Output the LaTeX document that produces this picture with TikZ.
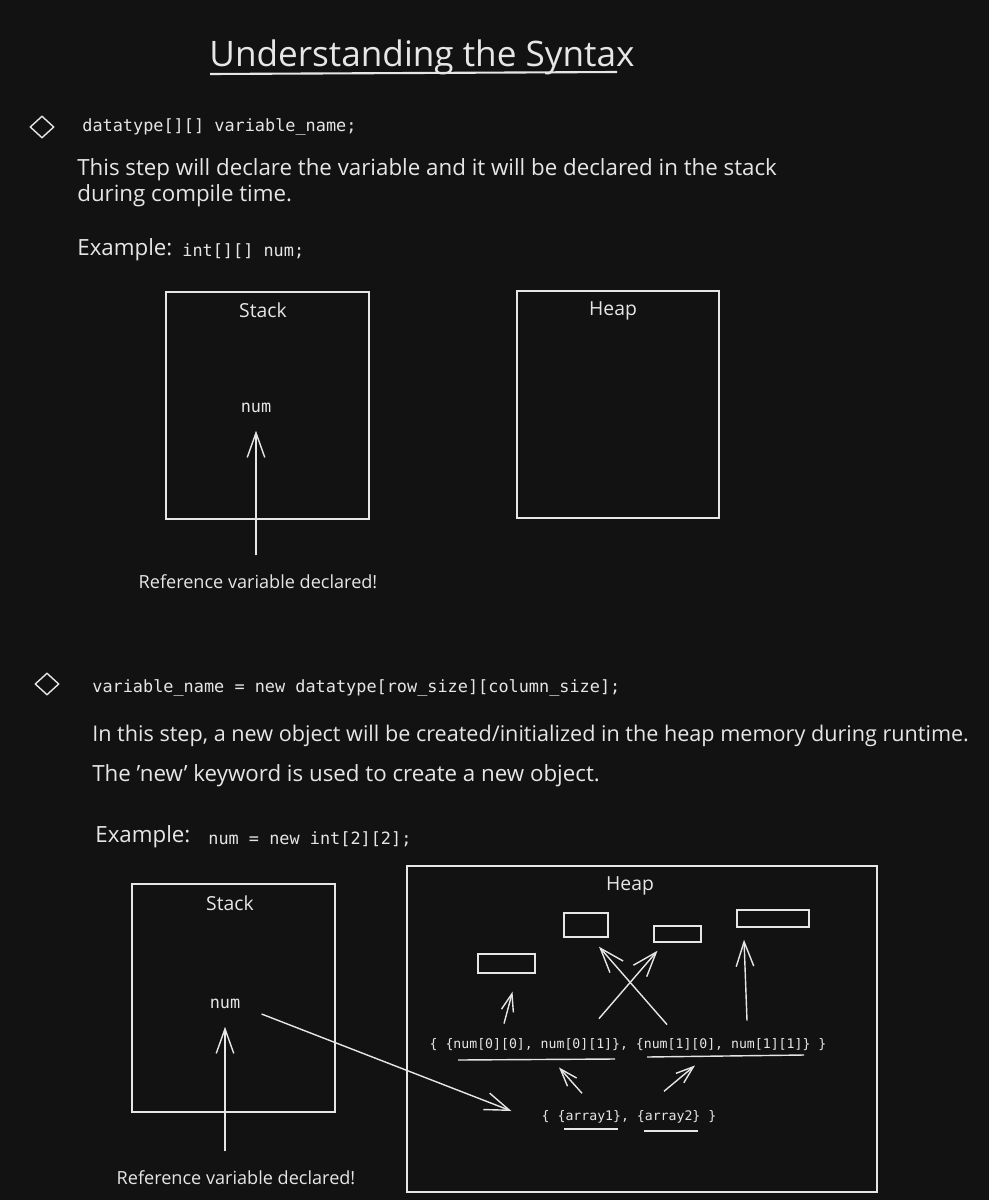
\documentclass[tikz,border=0pt]{standalone}
\usepackage{fontspec}
\setmainfont{Open Sans}
\setmonofont{DejaVu Sans Mono}
\usepackage{tikz}
\usetikzlibrary{arrows.meta, positioning, calc, shapes.geometric}
\usepackage{xcolor}
\definecolor{boardbg}{HTML}{121212}
\definecolor{chalkwhite}{HTML}{E6E6E6}

\begin{document}
\begin{tikzpicture}[
    x=0.02cm, y=-0.02cm,
    >={Straight Barb[length=14pt, width=10pt]},
    hand/.style={text=chalkwhite, inner sep=0, font=\fontsize{11}{13}\selectfont},
    body hand/.style={hand, font=\fontsize{12.7}{15}\selectfont},
    small hand/.style={hand, font=\fontsize{10.3}{12}\selectfont},
    code/.style={text=chalkwhite, inner sep=0, font=\ttfamily\fontsize{9.6}{11}\selectfont},
    heapcode/.style={code, font=\ttfamily\fontsize{7.5}{9}\selectfont},
    membox/.style={draw=chalkwhite, line width=0.8pt, inner sep=0},
    cell/.style={draw=chalkwhite, line width=0.8pt, inner sep=0},
    bullet/.style={diamond, draw=chalkwhite, line width=0.8pt, inner sep=0, minimum width=0.48cm, minimum height=0.44cm},
    arr/.style={->, draw=chalkwhite, line width=0.8pt},
    sarr/.style={arr, >={Straight Barb[length=10pt, width=7pt]}},
    uline/.style={draw=chalkwhite, line width=0.8pt},
]
    % Board
    \useasboundingbox (0,0) rectangle (989,1200);
    \fill[boardbg] (0,0) rectangle (989,1200);

    % Title
    \node[hand, font=\fontsize{20}{24}\selectfont] (title) at (422,57) {Understanding the Syntax};
    \draw[uline, line width=1.2pt] (210,74) -- (617,72);

    % Step 1: declaration
    \node[bullet] (bul1) at (42,127) {};
    \node[code, anchor=west] (decl) at (82,127) {datatype[][] variable\_name;};
    \node[body hand, anchor=west] (descA) at (77,170) {This step will declare the variable and it will be declared in the stack};
    \node[body hand, anchor=west] (descB) at (77,196) {during compile time.};
    \node[body hand, anchor=west] (exA) at (77,250) {Example:};
    \node[code, anchor=west] (exAcode) at (182,251) {int[][] num;};

    % Memory before new
    \node[membox, minimum width=4.06cm, minimum height=4.54cm] (stackA) at (267.5,405.5) {};
    \node[hand] (stackAlbl) at (263,310) {Stack};
    \node[membox, minimum width=4.04cm, minimum height=4.54cm] (heapA) at (618,404.5) {};
    \node[hand] (heapAlbl) at (613,311) {Heap};
    \node[code] (numA) at (256,408) {num};
    \node[small hand] (refA) at (258,582) {Reference variable declared!};
    \draw[arr, shorten <=11pt, shorten >=10pt] (refA.north -| numA) -- (numA.south);

    % Step 2: initialisation
    \node[bullet] (bul2) at (47,684) {};
    \node[code, anchor=west] (init) at (92,688) {variable\_name = new datatype[row\_size][column\_size];};
    \node[body hand, anchor=west, font=\fontsize{12.3}{15}\selectfont] (descC) at (92,736) {In this step, a new object will be created/initialized in the heap memory during runtime.};
    \node[body hand, anchor=west] (descD) at (92,776) {The 'new' keyword is used to create a new object.};
    \node[body hand, anchor=west] (exB) at (95,837) {Example:};
    \node[code, anchor=west] (exBcode) at (208,839) {num = new int[2][2];};

    % Memory after new
    \node[membox, minimum width=4.06cm, minimum height=4.56cm] (stackB) at (233.5,998) {};
    \node[hand] (stackBlbl) at (230,903) {Stack};
    \node[code] (numB) at (225,1004) {num};
    \node[small hand] (refB) at (236,1178) {Reference variable declared!};
    \draw[arr, shorten <=11pt, shorten >=10pt] (refB.north -| numB) -- (numB.south);

    \node[membox, minimum width=9.4cm, minimum height=6.52cm] (heapB) at (642,1029) {};
    \node[hand] (heapBlbl) at (630,886) {Heap};

    % Inner arrays
    \node[cell, minimum width=1.14cm, minimum height=0.38cm] (cellA) at (506.5,963.5) {};
    \node[cell, minimum width=0.88cm, minimum height=0.48cm] (cellB) at (586,925) {};
    \node[cell, minimum width=0.94cm, minimum height=0.32cm] (cellC) at (677.5,934) {};
    \node[cell, minimum width=1.44cm, minimum height=0.34cm] (cellD) at (773,918.5) {};

    \node[heapcode] (rows) at (628,1045) {\{ \{num[0][0], num[0][1]\}, \{num[1][0], num[1][1]\} \}};
    \node[heapcode] (arrays) at (629,1117) {\{ \{array1\}, \{array2\} \}};
    \draw[uline] (458,1060) -- (615,1059);
    \draw[uline] (647,1057) -- (804,1055);
    \draw[uline] (564,1129) -- (618,1129);
    \draw[uline] (644,1131) -- (698,1131);

    % Element arrows
    \coordinate (tA) at ($(rows.north)+(-124,-15)$);
    \coordinate (tX1) at ($(rows.north)+(39,-14)$);
    \coordinate (tX2) at ($(rows.north)+(-29,-20)$);
    \coordinate (tD) at ($(rows.north)+(119,-18)$);
    \draw[sarr] (tA) -- ($(cellA.south)+(6,18)$);
    \draw[arr] (tX1) -- ($(cellB.south)+(13,9)$);
    \draw[arr] (tX2) -- ($(cellC.south)+(-20,8)$);
    \draw[arr] (tD) -- ($(cellD.south)+(-29,12)$);

    % Row arrows
    \coordinate (tR1) at ($(arrays.north)+(-47,-17)$);
    \coordinate (tR2) at ($(arrays.north)+(35,-19)$);
    \draw[sarr] (tR1) -- ($(rows.south)+(-69,16)$);
    \draw[sarr] (tR2) -- ($(rows.south)+(67,14)$);

    % Reference to heap
    \draw[arr] ($(numB.east)+(21,10)$) -- ($(arrays.west)+(-30,-6)$);

\end{tikzpicture}
\end{document}
